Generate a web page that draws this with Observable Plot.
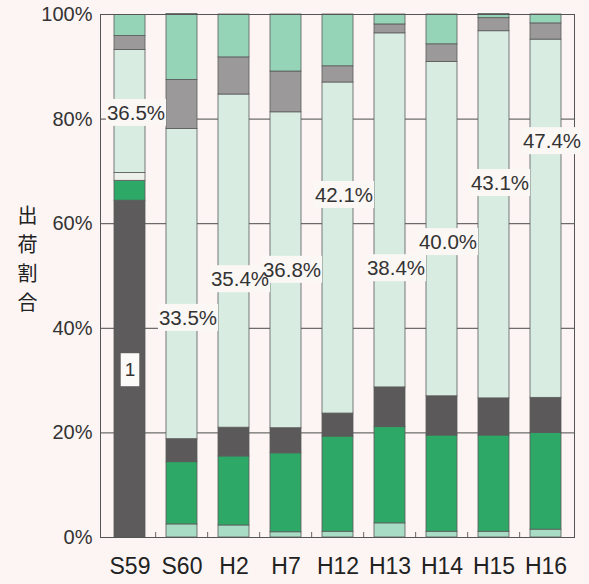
<!DOCTYPE html>
<html><head><meta charset="utf-8">
<script src="https://cdn.jsdelivr.net/npm/d3@7"></script>
<script src="https://cdn.jsdelivr.net/npm/@observablehq/plot@0.6"></script>
<style>
html,body{margin:0;padding:0;background:#fcf5f4;}
#chart{width:589px;height:584px;}
</style></head><body><div id="chart"></div>
<script>
// Categories
const years = ["S59","S60","H2","H7","H12","H13","H14","H15","H16"];
// Series values (% share), bottom to top
const seriesOne  = [64.4, 0, 0, 0, 0, 0, 0, 0, 0];
const bottomMint = [0, 2.5, 2.3, 1.0, 1.1, 2.7, 1.1, 1.1, 1.5];
const green      = [3.8, 11.9, 13.2, 15.1, 18.2, 18.4, 18.4, 18.4, 18.5];
const darkGray   = [0, 4.4, 5.5, 4.8, 4.4, 7.6, 7.5, 7.1, 6.7];
const paleBand   = [1.5, 0, 0, 0, 0, 0, 0, 0, 0];
const paleMint   = [23.5, 59.3, 63.7, 60.4, 63.3, 67.7, 63.9, 70.2, 68.5];
const gray       = [2.7, 9.4, 7.1, 7.8, 3.1, 1.7, 3.4, 2.5, 3.1];
const topMint    = [4.0, 12.6, 8.2, 10.9, 9.9, 1.9, 5.7, 0.8, 1.7];
// Annotation values and the heights (in %) where they sit
const labelValues = [36.5, 33.5, 35.4, 36.8, 42.1, 38.4, 40.0, 43.1, 47.4];
const labelAt     = [81.1, 41.9, 49.3, 51.1, 65.4, 51.4, 56.4, 67.7, 75.7];
const oneLabel = ["1"];
const oneAt = [32];
// Tick labels
const yTicks = [0, 20, 40, 60, 80, 100];
const yTitle = ["出\n荷\n割\n合"];

const seriesList = [
  ["one", seriesOne], ["bottomMint", bottomMint], ["green", green], ["darkGray", darkGray],
  ["paleBand", paleBand], ["paleMint", paleMint], ["gray", gray], ["topMint", topMint]
];
const colors = {
  one: "#5d5b5b", bottomMint: "#a9dcc5", green: "#2ea867", darkGray: "#5b5959",
  paleBand: "#eef0ea", paleMint: "#d8ece2", gray: "#9b999a", topMint: "#96d4b8"
};
const rows = [];
for (const [name, vals] of seriesList) {
  years.forEach((yr, i) => rows.push({year: yr, series: name, value: vals[i]}));
}
const labels = years.map((yr, i) => ({year: yr, at: labelAt[i], text: labelValues[i].toFixed(1) + "%"}));
const ones = oneLabel.map((t, i) => ({year: years[0], at: oneAt[i], text: t}));

const font = "'Liberation Sans', Arial, Helvetica, sans-serif";
const chart = Plot.plot({
  width: 589, height: 584,
  marginLeft: 100, marginRight: 15, marginTop: 14, marginBottom: 47,
  style: {background: "transparent", fontFamily: font, color: "#333"},
  x: {domain: years, paddingInner: 0.41, paddingOuter: 0.205, label: null},
  y: {domain: [0, 100], label: null},
  color: {domain: seriesList.map(d => d[0]), range: seriesList.map(d => colors[d[0]])},
  marks: [
    Plot.gridY(yTicks, {stroke: "#4a4a4a", strokeOpacity: 1, strokeWidth: 1}),
    Plot.barY(rows.filter(d => d.value > 0), {x: "year", y: "value", fill: "series", order: seriesList.map(d => d[0]), stroke: "#5a5a5a", strokeWidth: 0.8}),
    Plot.frame({stroke: "#555", strokeWidth: 1}),
    Plot.axisX(years.slice(1), {anchor: "bottom", tickSize: -5, dx: -26.35, text: null, stroke: "#666"}),
    Plot.axisY(yTicks, {tickSize: 0, tickPadding: 8, fontSize: 20, tickFormat: d => d + "%", fill: "#333"}),
    Plot.axisX({tickSize: 0, tickPadding: 20, fontSize: 23, fill: "#222"}),
    Plot.text(yTitle, {frameAnchor: "left", textAnchor: "middle", dx: -73, dy: -19, fontSize: 20, lineHeight: 1.45, fill: "#222", fontFamily: "'Noto Sans CJK JP', sans-serif"}),
    Plot.text(labels, {x: "year", y: "at", text: "text", dx: 6, fontSize: 20.5, fill: "#333"}),
    Plot.text(ones, {x: "year", y: "at", text: "text", fontSize: 19, fill: "#333"})
  ]
});
document.getElementById("chart").appendChild(chart);

function boxes(texts, px, py, fill) {
  const want = new Set(texts);
  const svgNS = "http://www.w3.org/2000/svg";
  const found = Array.from(chart.querySelectorAll("text")).filter(t => want.has(t.textContent.trim()));
  if (!found.length) return;
  const first = found[0];
  found.forEach(t => {
    const b = t.getBBox();
    const r = document.createElementNS(svgNS, "rect");
    r.setAttribute("x", b.x - px);
    r.setAttribute("y", b.y - py);
    r.setAttribute("width", b.width + 2 * px);
    r.setAttribute("height", b.height + 2 * py);
    r.setAttribute("fill", fill);
    const tr = t.getAttribute("transform");
    if (tr) r.setAttribute("transform", tr);
    if (t.parentNode === first.parentNode) first.parentNode.insertBefore(r, first);
    else t.parentNode.insertBefore(r, t);
  });
}
boxes(labels.map(d => d.text), 1, 2, "#fbf7f5");
boxes(ones.map(d => d.text), 4, 6, "#fbfaf8");
</script>
</body></html>
